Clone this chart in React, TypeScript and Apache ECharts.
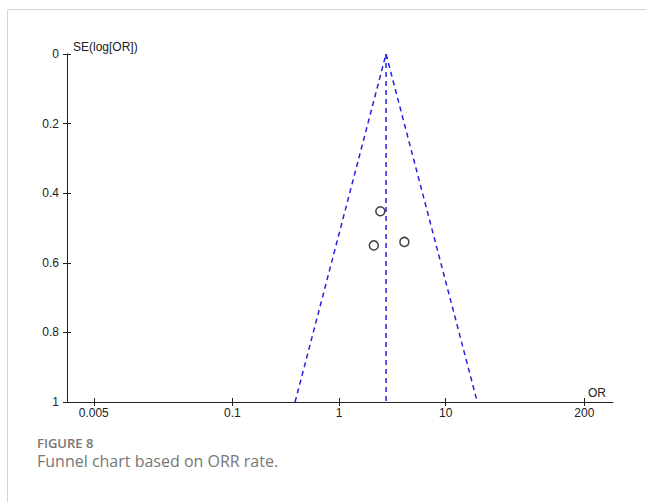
import React, { useEffect, useRef } from 'react';
import * as echarts from 'echarts';

// Study estimates (odds ratio and its standard error of log OR)
const studyOR = [2.44, 2.12, 4.1];
const studySE = [0.452, 0.55, 0.54];
// Pooled estimate and funnel limits (read at SE = 1)
const pooledOR = 2.76;
const funnelLimitOR = [0.387, 19.8];
const funnelSE = [0, 1];
// Axis ticks
const xTickValues = [0.005, 0.1, 1, 10, 200];
const xTickLabels = ['0.005', '0.1', '1', '10', '200'];
const yTickValues = [0, 0.2, 0.4, 0.6, 0.8, 1];

const lg = (v: number) => Math.log10(v);

export default function App() {
  const ref = useRef<HTMLDivElement>(null);
  useEffect(() => {
    if (!ref.current) return;
    const chart = echarts.init(ref.current, undefined, { renderer: 'svg' });
    const axisFont = { fontFamily: 'Liberation Sans', fontSize: 12, color: '#222' };
    const xTicks = xTickValues.map(lg);
    const xFmt = (v: number) => {
      const i = xTicks.findIndex((t) => Math.abs(t - v) < 1e-6);
      return i >= 0 ? xTickLabels[i] : '';
    };
    const blue = '#2222e0';
    const xMin = -2.552;
    const xMax = 2.57;
    chart.setOption({
      animation: false,
      backgroundColor: '#fff',
      grid: { left: 67, top: 54, width: 546, height: 348 },
      xAxis: [
        {
          type: 'value',
          position: 'bottom',
          min: xMin,
          max: xMax,
          name: 'OR',
          nameLocation: 'end',
          nameGap: -7,
          nameTextStyle: { ...axisFont, align: 'right', verticalAlign: 'bottom', padding: [0, 0, 3, 0] },
          axisLine: { show: true, onZero: false, lineStyle: { color: '#222', width: 1 } },
          axisTick: { show: true, inside: false, length: 4, customValues: xTicks, lineStyle: { color: '#222' } },
          axisLabel: { show: true, margin: 5, customValues: xTicks, formatter: xFmt, ...axisFont },
          splitLine: { show: false },
        },
        {
          type: 'value',
          position: 'bottom',
          min: xMin,
          max: xMax,
          axisLine: { show: false, onZero: false },
          axisTick: { show: true, inside: true, length: 4, customValues: xTicks, lineStyle: { color: '#222' } },
          axisLabel: { show: false },
          splitLine: { show: false },
        },
      ],
      yAxis: [
        {
          type: 'value',
          position: 'left',
          min: 0,
          max: 1,
          interval: 0.2,
          inverse: true,
          name: 'SE(log[OR])',
          nameLocation: 'start',
          nameGap: 7,
          nameTextStyle: { ...axisFont, align: 'left', verticalAlign: 'middle', padding: [0, 0, 0, 6] },
          axisLine: { show: true, onZero: false, lineStyle: { color: '#222', width: 1 } },
          axisTick: { show: true, inside: false, length: 4, customValues: yTickValues, lineStyle: { color: '#222' } },
          axisLabel: { show: true, margin: 8, ...axisFont },
          splitLine: { show: false },
        },
        {
          type: 'value',
          position: 'left',
          min: 0,
          max: 1,
          interval: 0.2,
          inverse: true,
          axisLine: { show: false, onZero: false },
          axisTick: { show: true, inside: true, length: 4, lineStyle: { color: '#222' } },
          axisLabel: { show: false },
          splitLine: { show: false },
        },
      ],
      series: [
        {
          type: 'line',
          xAxisIndex: 0,
          yAxisIndex: 0,
          symbol: 'none',
          data: [
            [lg(funnelLimitOR[0]), funnelSE[1]],
            [lg(pooledOR), funnelSE[0]],
            [lg(funnelLimitOR[1]), funnelSE[1]],
          ],
          lineStyle: { color: blue, width: 1.5, type: [5, 4] },
          z: 2,
        },
        {
          type: 'line',
          xAxisIndex: 0,
          yAxisIndex: 0,
          symbol: 'none',
          data: [
            [lg(pooledOR), funnelSE[0]],
            [lg(pooledOR), funnelSE[1]],
          ],
          lineStyle: { color: blue, width: 1.5, type: [5, 4] },
          z: 2,
        },
        {
          type: 'scatter',
          xAxisIndex: 0,
          yAxisIndex: 0,
          symbol: 'circle',
          symbolSize: 9,
          data: studyOR.map((v, i) => [lg(v), studySE[i]]),
          itemStyle: { color: '#fff', borderColor: '#111', borderWidth: 1.5 },
          z: 3,
        },
      ],
      graphic: [
        {
          type: 'rect',
          shape: { x: 7.5, y: 9.5, width: 800, height: 800 },
          style: { fill: 'none', stroke: '#d4d4d4', lineWidth: 1 },
          silent: true,
        },
        {
          type: 'text',
          x: 37,
          y: 443,
          style: {
            text: 'FIGURE 8',
            fontFamily: 'Open Sans',
            fontWeight: 600,
            fontSize: 13,
            lineHeight: 14,
            fill: '#777',
            verticalAlign: 'middle',
          },
        },
        {
          type: 'text',
          x: 37,
          y: 461,
          style: {
            text: 'Funnel chart based on ORR rate.',
            fontFamily: 'Open Sans',
            fontSize: 16,
            lineHeight: 16,
            fill: '#777',
            verticalAlign: 'middle',
          },
        },
      ],
    });
    return () => chart.dispose();
  }, []);
  return (
    <div
      ref={ref}
      style={{ position: 'absolute', left: 0, top: 0, width: 646, height: 502, background: '#fff' }}
    />
  );
}
